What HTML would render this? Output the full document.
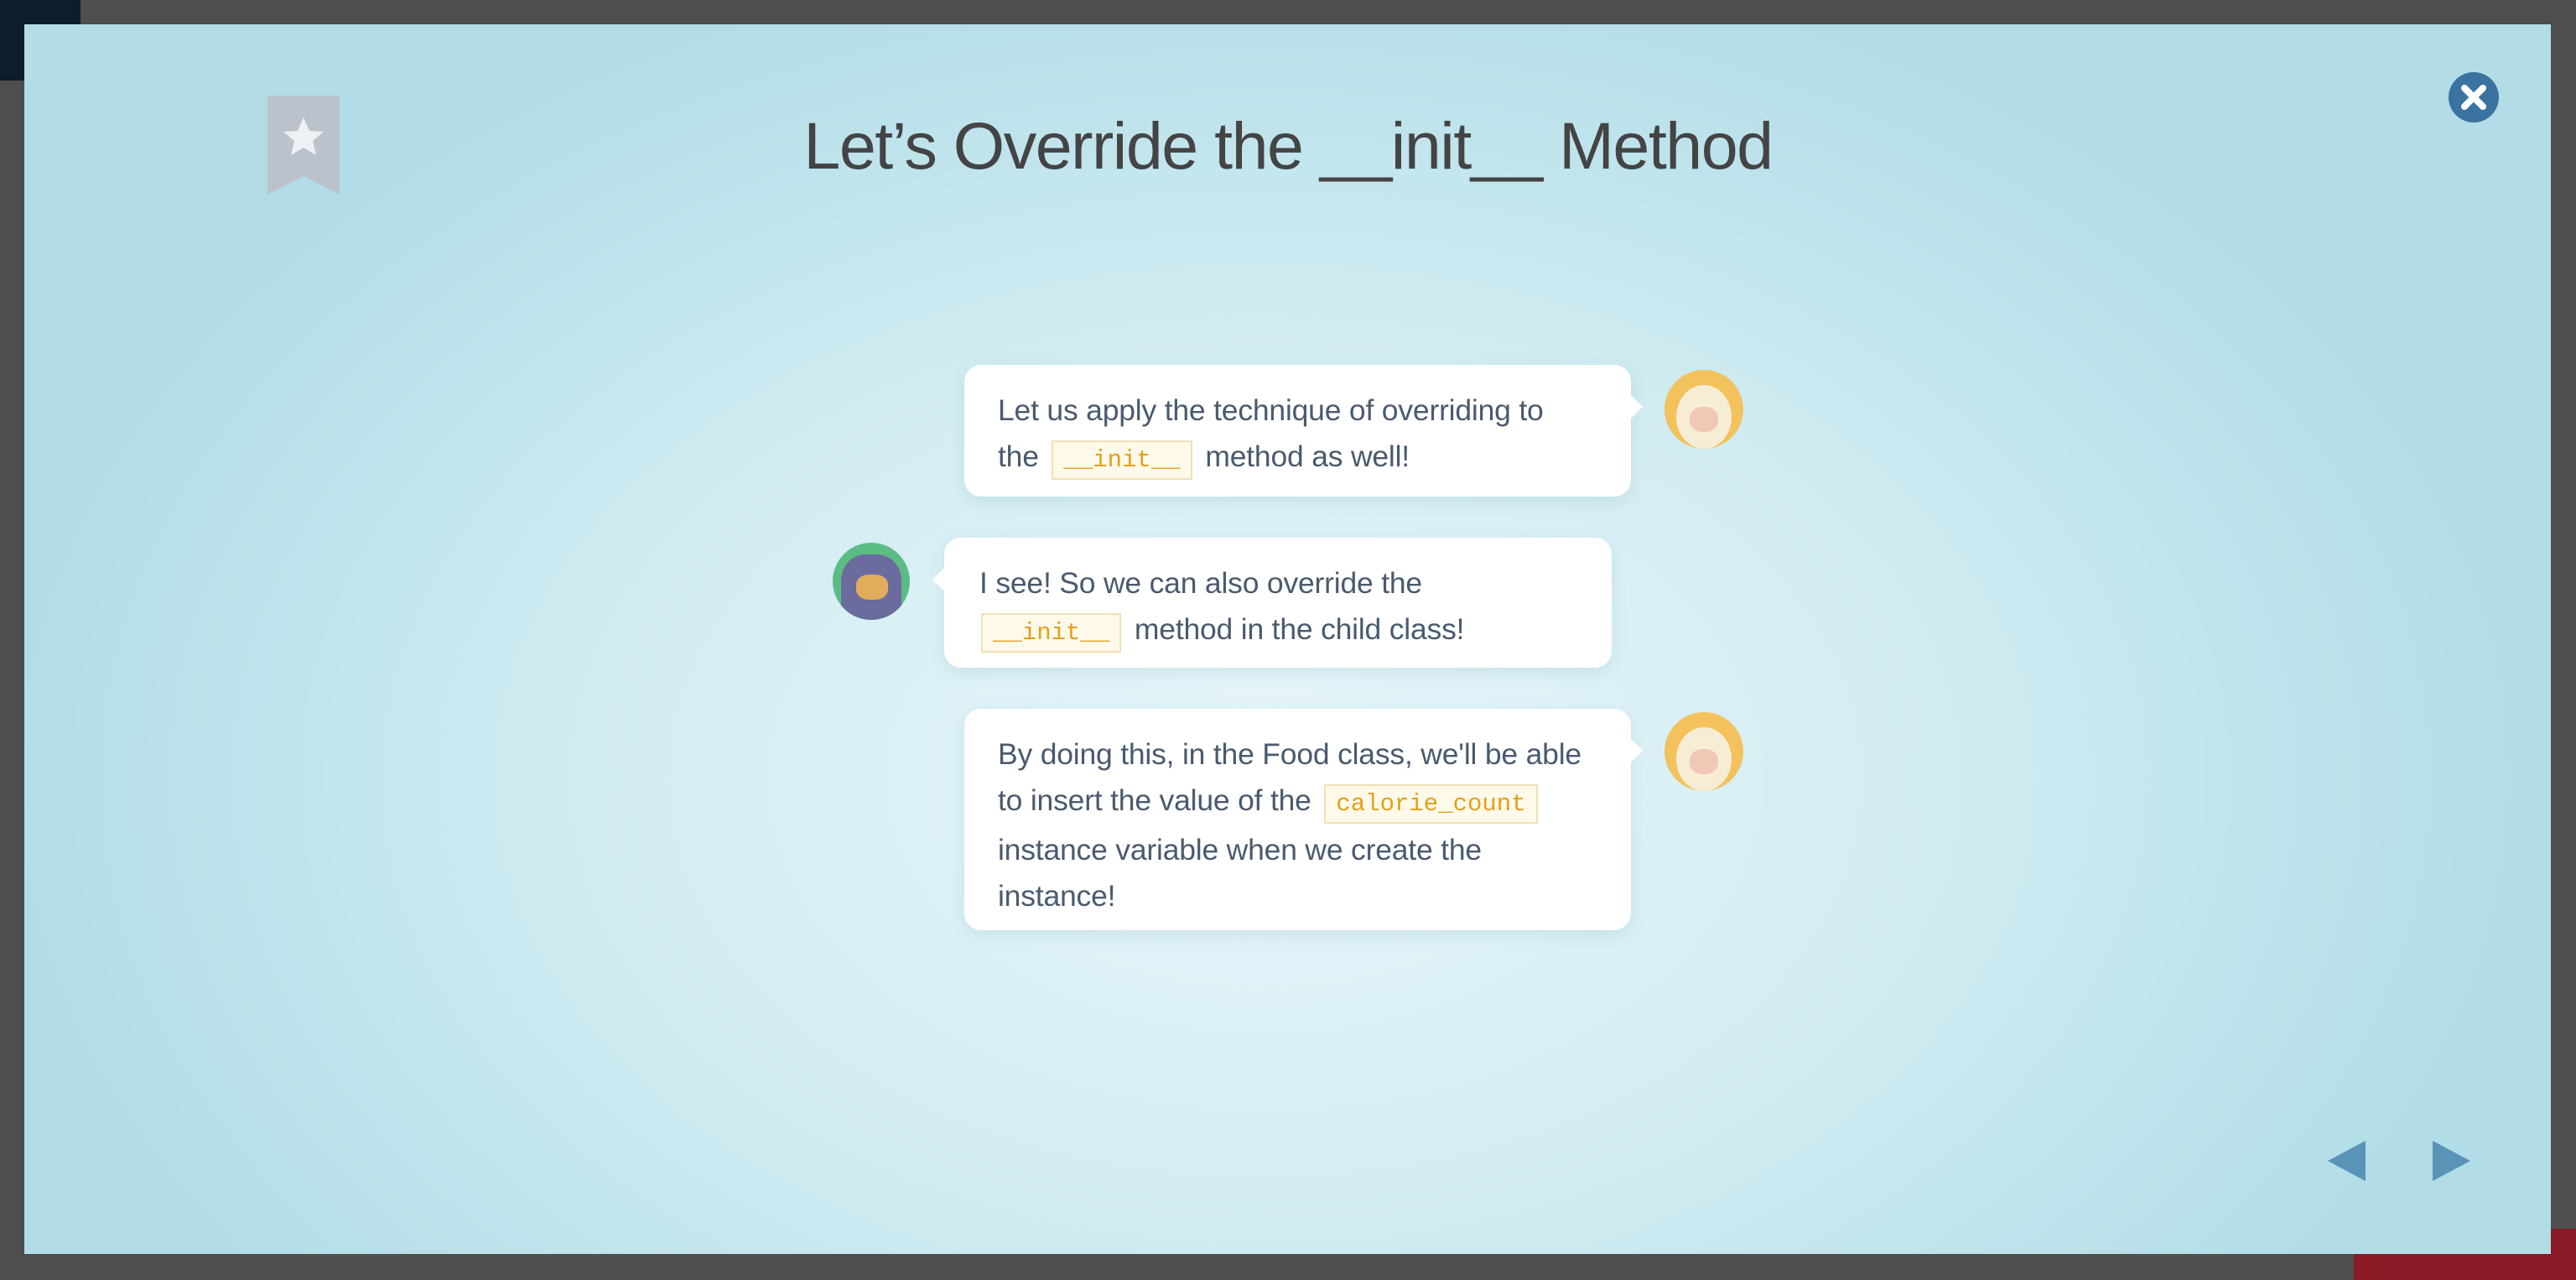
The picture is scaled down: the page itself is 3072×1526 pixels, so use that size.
<!DOCTYPE html>
<html><head><meta charset="utf-8"><style>
*{margin:0;padding:0;box-sizing:border-box}
body{width:3072px;height:1526px;background:#4e4e4e;position:relative;overflow:hidden;font-family:"Liberation Sans",sans-serif}
.modal{position:absolute;left:29px;top:29px;width:3013px;height:1466px;background:radial-gradient(ellipse 1500px 1000px at 1480px 900px,#e8f6fa 0%,#d3edf3 50%,#b2dde7 100%)}
.title{position:absolute;left:0;width:3072px;top:128px;text-align:center;font-size:79px;color:#444;letter-spacing:-1.5px}
.bubble{position:absolute;background:#fff;border-radius:20px;box-shadow:0 6px 18px rgba(90,140,160,.15);font-size:35.5px;line-height:55px;color:#4a5a6e;padding:27px 40px 22px;letter-spacing:-0.2px}
.bubble.r::after{content:"";position:absolute;right:-14px;top:36px;border:14px solid transparent;border-left-color:#fff;border-right:0}
.bubble.l::after{content:"";position:absolute;left:-14px;top:36px;border:14px solid transparent;border-right-color:#fff;border-left:0}
code{font-family:"Liberation Mono",monospace;font-size:29px;color:#e3a01a;background:#fff9ea;border:2px solid #f1dfb7;padding:5px 12px;margin:0 6px;letter-spacing:0}
.sheep{position:absolute;width:94px;height:94px;border-radius:50%;background:#f3c25c;overflow:hidden}
.sheep::before{content:"";position:absolute;left:14px;top:18px;width:66px;height:76px;border-radius:50%;background:#f7edd4}
.sheep::after{content:"";position:absolute;left:30px;top:44px;width:34px;height:30px;border-radius:45%;background:#f1c7b6}
.cat{position:absolute;left:993px;top:647px;width:92px;height:92px;border-radius:50%;background:#5bbd85;overflow:hidden}
</style></head><body>
<div style="position:absolute;left:0;top:0;width:96px;height:96px;background:#0d1e2a"></div>
<div style="position:absolute;left:2807px;top:1465px;width:265px;height:61px;background:#8a1a26"></div>
<div class="modal"></div>
<svg style="position:absolute;left:319px;top:114px" width="86" height="118"><path d="M0 0H86V118L43 96 0 118Z" fill="#bcc2cc"/><path d="M43 26l7 16 17 1-13 11 4 17-15-9-15 9 4-17-13-11 17-1z" fill="#eef0f3"/></svg>
<svg style="position:absolute;left:2920px;top:86px" width="60" height="60"><circle cx="30" cy="30" r="30" fill="#3a73a0"/><path d="M19 19L41 41M41 19L19 41" stroke="#fff" stroke-width="8" stroke-linecap="round"/></svg>
<div class="title">Let’s Override the __init__ Method</div>

<div class="bubble r" style="left:1150px;top:435px;width:795px;height:157px">Let us apply the technique of overriding to<br>the <code>__init__</code> method as well!</div>
<div class="sheep" style="left:1985px;top:441px"></div>

<div class="bubble l" style="left:1126px;top:641px;width:796px;height:155px;padding-left:42px">I see! So we can also override the<br><code style="margin-left:2px">__init__</code> method in the child class!</div>
<div class="cat"><div style="position:absolute;left:10px;top:14px;width:72px;height:78px;background:#6c6b9e;border-radius:40% 40% 20% 20%"></div><div style="position:absolute;left:28px;top:38px;width:38px;height:30px;background:#e1ad5c;border-radius:40%"></div></div>

<div class="bubble r" style="left:1150px;top:845px;width:795px;height:264px">By doing this, in the Food class, we'll be able<br>to insert the value of the <code>calorie_count</code><br>instance variable when we create the<br>instance!</div>
<div class="sheep" style="left:1985px;top:849px"></div>

<svg style="position:absolute;left:2776px;top:1360px" width="170" height="48"><path d="M45 0V48L0 24Z" fill="#5a93b8"/><path d="M125 0V48L170 24Z" fill="#5a93b8"/></svg>
</body></html>
